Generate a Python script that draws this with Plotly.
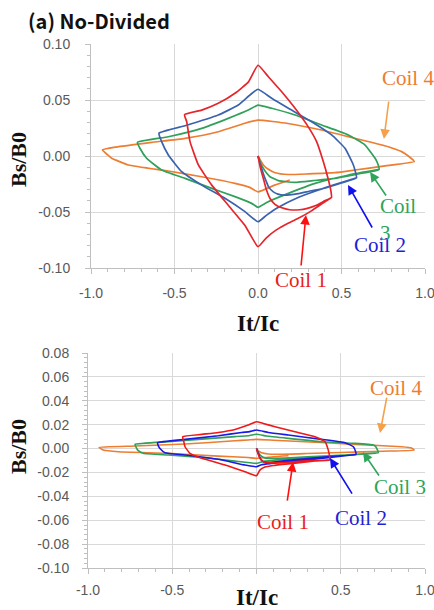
import plotly.graph_objects as go

W, H = 434, 610

# ---------------- data: top panel "(a) No-Divided" ----------------
top_coil1_x = [0, 0.015, 0.032, 0.05, 0.072, 0.1, 0.122, 0.16, 0.19, 0.25, 0.29, 0.35, 0.40, 0.44,
               0.435, 0.421, 0.391, 0.351, 0.301, 0.222, 0.142, 0.062, 0,
               -0.058, -0.138, -0.238, -0.337, -0.44,
               -0.427, -0.407, -0.357, -0.277, -0.178, -0.078, 0,
               0.05, 0.11, 0.18, 0.25, 0.32, 0.38, 0.44]
top_coil1_y = [0, -0.011, -0.02, -0.03, -0.038, -0.043, -0.045, -0.047, -0.048, -0.048, -0.047, -0.044, -0.040, -0.037,
               -0.03, -0.021, -0.005, 0.0128, 0.026, 0.0426, 0.0574, 0.0708, 0.081,
               0.066, 0.056, 0.047, 0.041, 0.037,
               0.0307, 0.0128, -0.008, -0.026, -0.044, -0.062, -0.081,
               -0.073, -0.066, -0.06, -0.055, -0.049, -0.043, -0.037]

top_coil2_x = [0, 0.015, 0.03, 0.042, 0.065, 0.092, 0.12, 0.152, 0.2, 0.251, 0.32, 0.391, 0.5, 0.59,
               0.583, 0.571, 0.521, 0.441, 0.321, 0.182, 0.082, 0,
               -0.048, -0.118, -0.238, -0.437, -0.593,
               -0.577, -0.537, -0.457, -0.337, -0.198, -0.078, 0,
               0.05, 0.12, 0.24, 0.35, 0.45, 0.59]
top_coil2_y = [0, -0.008, -0.015, -0.02, -0.028, -0.032, -0.034, -0.035, -0.0345, -0.0333, -0.031, -0.029, -0.024, -0.0195,
               -0.014, -0.008, 0.0069, 0.0188, 0.0306, 0.0426, 0.0515, 0.0596,
               0.0545, 0.0455, 0.0366, 0.027, 0.0203,
               0.0128, 0.0009, -0.014, -0.026, -0.0378, -0.0497, -0.0587,
               -0.053, -0.046, -0.037, -0.031, -0.026, -0.0195]

top_coil3_x = [0, 0.015, 0.032, 0.05, 0.072, 0.1, 0.122, 0.17, 0.222, 0.33, 0.461, 0.6, 0.725,
               0.715, 0.701, 0.641, 0.541, 0.381, 0.222, 0.082, 0,
               -0.058, -0.178, -0.337, -0.537, -0.722,
               -0.707, -0.667, -0.577, -0.437, -0.277, -0.138, -0.038, 0,
               0.058, 0.178, 0.337, 0.537, 0.725]
top_coil3_y = [0, -0.006, -0.011, -0.015, -0.0185, -0.0205, -0.022, -0.023, -0.0235, -0.022, -0.02, -0.016, -0.012,
               -0.006, -0.002, 0.0098, 0.0188, 0.0277, 0.0366, 0.0426, 0.0455,
               0.041, 0.0336, 0.0247, 0.0172, 0.0122,
               0.0069, -0.002, -0.0125, -0.02, -0.0289, -0.0363, -0.0423, -0.0458,
               -0.041, -0.0336, -0.0247, -0.0172, -0.012]

top_coil4_x = [0, 0.015, 0.032, 0.062, 0.102, 0.182, 0.3, 0.461, 0.581, 0.75, 0.936,
               0.9, 0.86, 0.78, 0.58, 0.38, 0.18, 0,
               -0.078, -0.238, -0.437, -0.637, -0.85, -0.932,
               -0.9, -0.876, -0.776, -0.537, -0.337, -0.138, -0.05, 0,
               0.1, 0.19]
top_coil4_y = [0, -0.004, -0.008, -0.0119, -0.0149, -0.0165, -0.016, -0.0149, -0.0125, -0.009, -0.005,
               0.0, 0.0039, 0.0083, 0.0158, 0.0232, 0.029, 0.032,
               0.0292, 0.0217, 0.0158, 0.0122, 0.008, 0.0054,
               0.001, -0.002, -0.008, -0.0134, -0.0185, -0.0244, -0.028, -0.032,
               -0.026, -0.0214]

# ---------------- data: bottom panel ----------------
bot_coil1_x = [0, 0.008, 0.02, 0.035, 0.06, 0.1, 0.2, 0.3, 0.435,
               0.433, 0.426, 0.407, 0.347, 0.228, 0.11, 0.04, 0,
               -0.049, -0.128, -0.227, -0.325, -0.438,
               -0.432, -0.424, -0.395, -0.325, -0.187, -0.068, 0,
               0.02, 0.05, 0.1, 0.218, 0.347, 0.435]
bot_coil1_y = [0, -0.004, -0.008, -0.0105, -0.0118, -0.012, -0.0112, -0.0102, -0.0095,
               -0.006, -0.0013, 0.0057, 0.0099, 0.0141, 0.0183, 0.021, 0.0225,
               0.0197, 0.016, 0.0135, 0.0119, 0.0099,
               0.006, 0.0015, -0.004, -0.0082, -0.0138, -0.0194, -0.0227,
               -0.018, -0.0155, -0.0142, -0.0124, -0.0104, -0.0095]

bot_coil2_x = [0, 0.01, 0.02, 0.035, 0.05, 0.08, 0.15, 0.288, 0.45, 0.59,
               0.589, 0.575, 0.525, 0.387, 0.189, 0.07, 0,
               -0.04, -0.088, -0.227, -0.424, -0.587,
               -0.582, -0.573, -0.543, -0.424, -0.227, -0.068, 0,
               0.03, 0.088, 0.227, 0.424, 0.59]
bot_coil2_y = [0, -0.004, -0.0075, -0.0105, -0.0115, -0.0115, -0.0105, -0.0085, -0.0065, -0.005,
               -0.003, 0.0015, 0.0049, 0.0077, 0.0113, 0.0135, 0.0155,
               0.0142, 0.0135, 0.0107, 0.0077, 0.0049,
               0.002, 0.0, -0.0035, -0.0054, -0.009, -0.0138, -0.0152,
               -0.0135, -0.0125, -0.0105, -0.0077, -0.005]

bot_coil3_x = [0, 0.01, 0.025, 0.05, 0.1, 0.2, 0.4, 0.723,
               0.719, 0.705, 0.693, 0.585, 0.387, 0.189, 0.06, 0,
               -0.04, -0.128, -0.325, -0.523, -0.721,
               -0.714, -0.705, -0.672, -0.523, -0.325, -0.128, 0,
               0.05, 0.128, 0.325, 0.523, 0.723]
bot_coil3_y = [0, -0.003, -0.006, -0.0078, -0.0082, -0.0078, -0.0062, -0.0035,
               -0.0015, 0.002, 0.003, 0.0043, 0.0057, 0.0085, 0.0105, 0.012,
               0.011, 0.0100, 0.0079, 0.0057, 0.0035,
               0.001, -0.0013, -0.004, -0.0054, -0.0074, -0.0105, -0.0124,
               -0.0105, -0.0095, -0.0075, -0.0055, -0.0035]

bot_coil4_x = [0, 0.01, 0.03, 0.07, 0.15, 0.3, 0.5, 0.75, 0.937,
               0.92, 0.862, 0.585, 0.288, 0.1, 0,
               -0.05, -0.128, -0.424, -0.721, -0.935,
               -0.92, -0.909, -0.82, -0.523, -0.227, -0.05, 0,
               0.1, 0.19]
bot_coil4_y = [0, -0.002, -0.0035, -0.0045, -0.0048, -0.0042, -0.0033, -0.0022, -0.0013,
               0.0005, 0.0015, 0.0035, 0.0057, 0.007, 0.0077,
               0.0072, 0.0065, 0.0038, 0.0021, 0.001,
               -0.0005, -0.0013, -0.0027, -0.004, -0.0063, -0.0075, -0.0082,
               -0.0068, -0.006]

coil_names = ["Coil 1", "Coil 2", "Coil 3", "Coil 4"]
top_colors = ["#E4262C", "#3A62AE", "#30A05A", "#ED7D31"]
bot_colors = ["#F01818", "#1A1AE6", "#30A05A", "#ED7D31"]

x_ticks = [-1.0, -0.5, 0.0, 0.5, 1.0]
top_x_ticktext = ["-1.0", "-0.5", "0.0", "0.5", "1.0"]
bot_x_ticktext = ["-1.0", "-0.5", "", "0.5", "1.0"]
top_y_ticks = [-0.10, -0.05, 0.00, 0.05, 0.10]
top_y_ticktext = ["-0.10", "-0.05", "0.00", "0.05", "0.10"]
bot_y_ticks = [-0.10, -0.08, -0.06, -0.04, -0.02, 0.00, 0.02, 0.04, 0.06, 0.08]
bot_y_ticktext = ["-0.10", "-0.08", "-0.06", "-0.04", "-0.02", "0.00", "0.02", "0.04", "0.06", "0.08"]

# ---------------- figure ----------------
fig = go.Figure()
top_series = [(top_coil1_x, top_coil1_y), (top_coil2_x, top_coil2_y),
              (top_coil3_x, top_coil3_y), (top_coil4_x, top_coil4_y)]
bot_series = [(bot_coil1_x, bot_coil1_y), (bot_coil2_x, bot_coil2_y),
              (bot_coil3_x, bot_coil3_y), (bot_coil4_x, bot_coil4_y)]
# draw coil 4 first so coil 1 is on top
for i in [3, 2, 1, 0]:
    xs, ys = top_series[i]
    fig.add_trace(go.Scatter(x=xs, y=ys, mode="lines", name=coil_names[i],
                             line=dict(color=top_colors[i], width=1.7, shape="spline", smoothing=0.4),
                             xaxis="x", yaxis="y", showlegend=False))
for i in [3, 2, 1, 0]:
    xs, ys = bot_series[i]
    fig.add_trace(go.Scatter(x=xs, y=ys, mode="lines", name=coil_names[i],
                             line=dict(color=bot_colors[i], width=1.6, shape="spline", smoothing=0.4),
                             xaxis="x2", yaxis="y2", showlegend=False))

def px(xp):
    return xp / W

def py(yp):
    return 1 - yp / H

tick_font = dict(family="Liberation Sans, Arial, sans-serif", size=14, color="#595959")
grid = "#d9d9d9"
axline = "#bfbfbf"

common_x = dict(range=[-1.0, 1.0], tickvals=x_ticks, showgrid=True, gridcolor=grid, gridwidth=1,
                zeroline=False, showline=True, linecolor=axline, linewidth=1, automargin=False,
                ticks="outside", ticklen=5, tickcolor=axline, tickfont=tick_font,
                ticklabeloverflow="allow",
                minor=dict(dtick=0.1, ticks="outside", ticklen=3, tickcolor=axline, showgrid=False),
                fixedrange=True)
common_y = dict(showgrid=True, gridcolor=grid, gridwidth=1, automargin=False,
                zeroline=False, showline=True, linecolor=axline, linewidth=1,
                ticks="outside", ticklen=5, tickcolor=axline, tickfont=tick_font, fixedrange=True)

fig.update_layout(
    width=W, height=H, margin=dict(l=0, r=0, t=0, b=0, autoexpand=False),
    paper_bgcolor="white", plot_bgcolor="white",
    xaxis=dict(domain=[px(91), px(425)], anchor="y", ticktext=top_x_ticktext,
               ticklabelstandoff=7, **common_x),
    yaxis=dict(domain=[py(268), py(44)], anchor="x", range=[-0.10, 0.10],
               tickvals=top_y_ticks, ticktext=top_y_ticktext, ticklabelstandoff=12,
               minor=dict(dtick=0.01, ticks="outside", ticklen=3, tickcolor=axline, showgrid=False),
               **common_y),
    xaxis2=dict(domain=[px(88), px(425)], anchor="y2", ticktext=bot_x_ticktext,
                ticklabelstandoff=4, **common_x),
    yaxis2=dict(domain=[py(568), py(353)], anchor="x2", range=[-0.10, 0.08],
                tickvals=bot_y_ticks, ticktext=bot_y_ticktext, ticklabelstandoff=10,
                minor=dict(dtick=0.004, ticks="outside", ticklen=3, tickcolor=axline, showgrid=False),
                **common_y),
)

ann = []
serif_b = "Liberation Serif, Times New Roman, serif"
# title
ann.append(dict(text="<b>(a) No-Divided</b>", xref="paper", yref="paper", x=px(26), y=py(20),
                xanchor="left", yanchor="middle", showarrow=False,
                font=dict(family="Noto Sans CJK JP, Noto Sans, sans-serif", size=20, color="#111111")))
# axis titles
for yc in [160, 447]:
    ann.append(dict(text="<b>Bs/B0</b>", xref="paper", yref="paper", x=px(18), y=py(yc),
                    xanchor="center", yanchor="middle", textangle=-90, showarrow=False,
                    font=dict(family=serif_b, size=22, color="#111111")))
for xc, yc in [(258, 323), (257, 597)]:
    ann.append(dict(text="<b>It/Ic</b>", xref="paper", yref="paper", x=px(xc), y=py(yc),
                    xanchor="center", yanchor="middle", showarrow=False,
                    font=dict(family=serif_b, size=23, color="#111111")))

label_colors = ["#E81E1E", "#1F1FD8", "#2EA55A", "#ED7D31"]
arrow_colors = ["#FF1010", "#1010F0", "#2EA55A", "#F5A04A"]
lab_font = lambda c: dict(family=serif_b, size=21, color=c)

# top labels (pixel positions: left x, center y)
top_labels = [("Coil 1", 273, 280), ("Coil 2", 352, 245), ("Coil<br>3", 378, 220), ("Coil 4", 380, 78)]
for i, (t, xl, yc) in enumerate(top_labels):
    ann.append(dict(text=t, xref="paper", yref="paper", x=px(xl), y=py(yc), xanchor="left",
                    yanchor="middle", align="left", showarrow=False, font=lab_font(label_colors[i])))
# top arrows: head (data), tail offset (pixels)
top_arrows = [(0.287, -0.0527, -5, 52), (0.539, -0.0259, 25, 44), (0.671, -0.0143, 17, 25), (0.754, 0.0152, 5, -39)]
for i, (hx, hy, ax, ay) in enumerate(top_arrows):
    ann.append(dict(text="", x=hx, y=hy, xref="x", yref="y", ax=ax, ay=ay, showarrow=True,
                    arrowhead=2, arrowsize=1.2, arrowwidth=1.6, arrowcolor=arrow_colors[i]))

bot_labels = [("Coil 1", 255, 522), ("Coil 2", 333, 518), ("Coil 3", 372, 487), ("Coil 4", 368, 388)]
for i, (t, xl, yc) in enumerate(bot_labels):
    ann.append(dict(text=t, xref="paper", yref="paper", x=px(xl), y=py(yc), xanchor="left",
                    yanchor="middle", align="left", showarrow=False, font=lab_font(label_colors[i])))
bot_arrows = [(0.217, -0.0113, -6, 40), (0.436, -0.008, 23, 37), (0.632, -0.0029, 17, 25), (0.733, 0.013, 7, -37)]
for i, (hx, hy, ax, ay) in enumerate(bot_arrows):
    ann.append(dict(text="", x=hx, y=hy, xref="x2", yref="y2", ax=ax, ay=ay, showarrow=True,
                    arrowhead=2, arrowsize=1.2, arrowwidth=1.6, arrowcolor=arrow_colors[i]))

fig.update_layout(annotations=ann)
fig.write_html("out.html", config={"displayModeBar": False},
               post_script="document.body.style.margin='0px';document.body.style.overflow='hidden';")
